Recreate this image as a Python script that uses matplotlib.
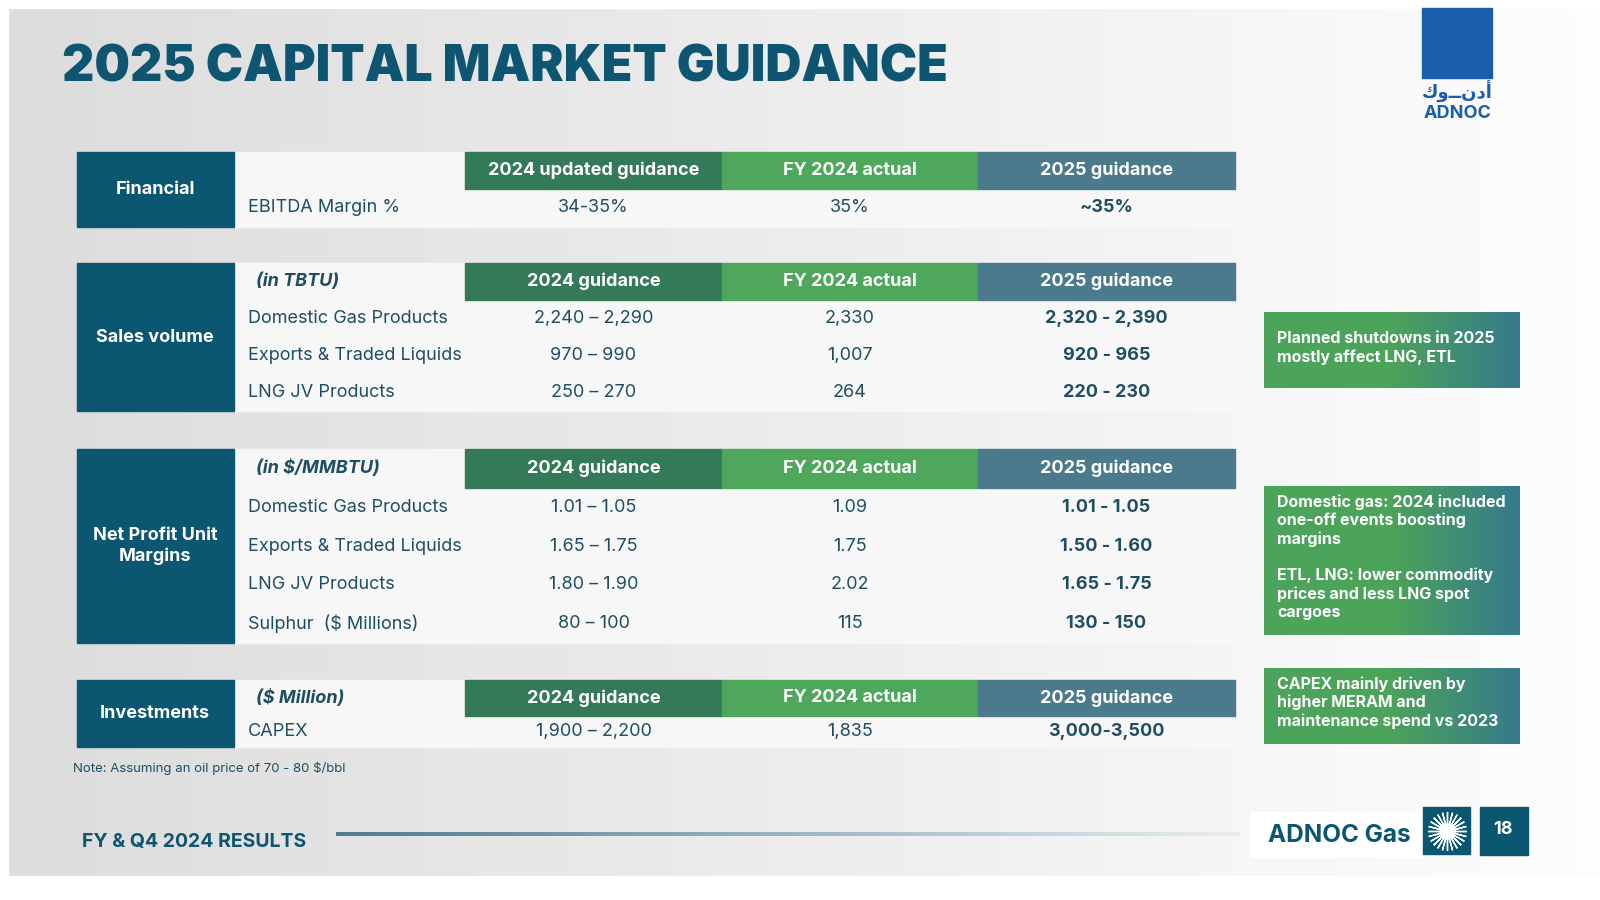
import numpy as np
import matplotlib.pyplot as plt
from matplotlib.colors import LinearSegmentedColormap

plt.rcParams['font.family'] = 'Inter'

# --- data ---
col_headers_fin = ['2024 updated guidance', 'FY 2024 actual', '2025 guidance']
col_headers = ['2024 guidance', 'FY 2024 actual', '2025 guidance']

fin_rows = ['EBITDA Margin %']
fin_vals = [['34-35%', '35%', '~35%']]

sales_unit = '(in TBTU)'
sales_rows = ['Domestic Gas Products', 'Exports & Traded Liquids', 'LNG JV Products']
sales_vals = [['2,240 – 2,290', '2,330', '2,320 - 2,390'],
              ['970 – 990', '1,007', '920 - 965'],
              ['250 – 270', '264', '220 - 230']]

margin_unit = '(in $/MMBTU)'
margin_rows = ['Domestic Gas Products', 'Exports & Traded Liquids', 'LNG JV Products',
               'Sulphur  ($ Millions)']
margin_vals = [['1.01 – 1.05', '1.09', '1.01 - 1.05'],
               ['1.65 – 1.75', '1.75', '1.50 - 1.60'],
               ['1.80 – 1.90', '2.02', '1.65 - 1.75'],
               ['80 – 100', '115', '130 - 150']]

inv_unit = '($ Million)'
inv_rows = ['CAPEX']
inv_vals = [['1,900 – 2,200', '1,835', '3,000-3,500']]

notes = ['Planned shutdowns in 2025\nmostly affect LNG, ETL',
         'Domestic gas: 2024 included\none-off events boosting\nmargins\n\nETL, LNG: lower commodity\nprices and less LNG spot\ncargoes',
         'CAPEX mainly driven by\nhigher MERAM and\nmaintenance spend vs 2023']

# --- styling ---
TEAL = '#0B5670'
TITLE = '#0D5570'
HDR = ['#357A58', '#4EA75A', '#4A7A8C']
TXT = '#1F4E63'

fig = plt.figure(figsize=(16, 9), dpi=100)
ax = fig.add_axes([0, 0, 1, 1])
ax.set_xlim(0, 1600)
ax.set_ylim(900, 0)
ax.axis('off')

# background
bg = np.linspace(0.86, 0.99, 256).reshape(1, -1)
ax.imshow(bg, extent=[0, 1600, 900, 0], cmap='gray', vmin=0, vmax=1, aspect='auto', zorder=0)
ax.add_patch(plt.Rectangle((0, 0), 8, 900, color='white', zorder=0.5))
ax.add_patch(plt.Rectangle((0, 0), 1600, 8, color='white', zorder=0.5))
ax.add_patch(plt.Rectangle((0, 876), 1600, 24, color='white', zorder=0.5))

ax.text(62, 68, '2025 CAPITAL MARKET GUIDANCE', fontsize=36, fontweight='black',
        color=TITLE, va='center', ha='left')

cols = [234, 465, 722, 978, 1235]


def section(y0, hh, row_h, label, unit, headers, rows, vals):
    n = len(rows)
    y1 = y0 + hh + row_h * n
    ax.add_patch(plt.Rectangle((77, y0), 157, y1 - y0, color=TEAL, zorder=2))
    ax.text(155, (y0 + y1) / 2, label, color='white', fontsize=13, fontweight='bold',
            ha='center', va='center', zorder=3)
    ax.add_patch(plt.Rectangle((234, y0), cols[-1] - 234, y1 - y0, color='#F7F7F7', zorder=1))
    for i, h in enumerate(headers):
        ax.add_patch(plt.Rectangle((cols[i + 1], y0), cols[i + 2] - cols[i + 1], hh,
                                   color=HDR[i], zorder=2))
        ax.text((cols[i + 1] + cols[i + 2]) / 2, y0 + hh / 2, h, color='white', fontsize=13,
                fontweight='bold', ha='center', va='center', zorder=3)
    if unit:
        ax.text(256, y0 + hh / 2, unit, color=TXT, fontsize=13, fontweight='bold',
                style='italic', ha='left', va='center', zorder=3)
    for r, (name, vv) in enumerate(zip(rows, vals)):
        yc = y0 + hh + row_h * (r + 0.5)
        ax.text(248, yc, name, color=TXT, fontsize=13, ha='left', va='center', zorder=3)
        for i, v in enumerate(vv):
            ax.text((cols[i + 1] + cols[i + 2]) / 2, yc, v, color=TXT, fontsize=13,
                    fontweight='bold' if i == 2 else 'normal', ha='center', va='center', zorder=3)


section(152, 37, 38, 'Financial', '', col_headers_fin, fin_rows, fin_vals)
section(263, 37, 37, 'Sales volume', sales_unit, col_headers, sales_rows, sales_vals)
section(449, 39, 38.75, 'Net Profit Unit\nMargins', margin_unit, col_headers, margin_rows, margin_vals)
section(680, 36, 31, 'Investments', inv_unit, col_headers, inv_rows, inv_vals)

# side notes with gradient
cmap = LinearSegmentedColormap.from_list('g', ['#4CA35A', '#4CA35A', '#357A8C'])
grad = np.linspace(0, 1, 256).reshape(1, -1)
for (y0, y1), t in zip([(312, 388), (486, 635), (668, 744)], notes):
    ax.imshow(grad, extent=[1264, 1520, y1, y0], cmap=cmap, aspect='auto', zorder=2)
    ax.text(1277, y0 + 19 if len(t) < 60 else y0 + 8, t, color='white', fontsize=11.5,
            fontweight='bold', ha='left', va='top', linespacing=1.25, zorder=3)

ax.text(73, 768, 'Note: Assuming an oil price of 70 - 80 $/bbl', color=TXT, fontsize=9.5,
        ha='left', va='center')

# footer
ax.text(82, 842, 'FY & Q4 2024 RESULTS', color=TITLE, fontsize=14, fontweight='bold',
        ha='left', va='center')
line = np.linspace(0, 1, 256).reshape(1, -1)
lcmap = LinearSegmentedColormap.from_list('l', ['#4F7C8E', '#E8EEF0'])
ax.imshow(line, extent=[336, 1240, 836, 832], cmap=lcmap, aspect='auto', zorder=2)
ax.add_patch(plt.Rectangle((1250, 812), 175, 45, color='white', zorder=1))
ax.text(1268, 836, 'ADNOC Gas', color=TEAL, fontsize=17.5, fontweight='bold',
        ha='left', va='center', zorder=3)
ax.add_patch(plt.Rectangle((1423, 807), 47, 47, color=TEAL, zorder=2))
ax.plot(1446.5, 830.5, marker=(24, 2, 0), markersize=28, color='white', zorder=3)
ax.plot(1446.5, 830.5, 'o', markersize=11, color='white', zorder=3)
ax.add_patch(plt.Rectangle((1480, 807), 48, 48, color=TEAL, zorder=2))
ax.text(1503, 830, '18', color='white', fontsize=13, fontweight='bold',
        ha='center', va='center', zorder=3)

# logo
ax.add_patch(plt.Rectangle((1422, 8), 70, 70, color='#1A5DAB', zorder=2))
ax.text(1457, 92, 'أدنــوك'[::-1], color='#1A5DAB', fontsize=13, fontweight='bold',
        ha='center', va='center', family='DejaVu Sans')
ax.text(1457, 113, 'ADNOC', color='#1A5DAB', fontsize=13, fontweight='bold',
        ha='center', va='center')

fig.savefig('out.png', dpi=100)
